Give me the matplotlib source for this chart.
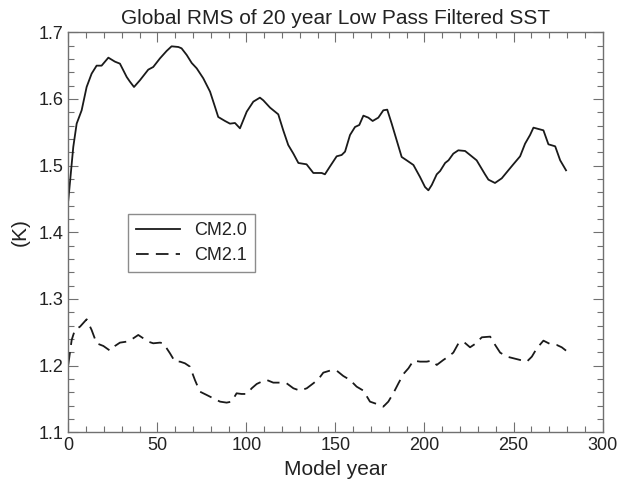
import matplotlib
matplotlib.use("Agg")
import matplotlib.pyplot as plt
from matplotlib.ticker import MultipleLocator

plt.rcParams['font.family'] = ['Liberation Sans', 'DejaVu Sans']

# CM2.0 - solid line
yr_cm20 = [0, 2.8, 4.7, 7.5, 10.3, 13.1, 15.9, 18.7, 22.5, 26.2, 29.0, 32.8, 34.6, 36.9,
           40.2, 44.9, 47.7, 51.5, 55.2, 58.0, 61.8, 63.6, 66.5, 69.3, 72.1, 75.8, 79.6,
           82.4, 84.2, 88.0, 90.8, 93.6, 96.4, 100.2, 103.9, 107.6, 109.5, 113.3, 117.9,
           120.7, 123.5, 126.4, 129.2, 133.8, 137.6, 142.3, 144.1, 147.0, 150.7, 153.5,
           155.4, 158.2, 161.0, 163.4, 165.7, 168.5, 170.9, 174.1, 176.9, 179.1, 181.6,
           184.4, 187.2, 190.0, 193.8, 197.5, 200.3, 202.2, 204.1, 206.9, 208.8, 211.6,
           213.5, 216.2, 219.0, 222.8, 225.6, 229.3, 234.0, 235.9, 239.6, 243.4, 247.1,
           249.9, 253.7, 256.5, 259.3, 261.2, 264.0, 266.8, 269.6, 273.4, 276.2, 279.5]
rms_cm20 = [1.448, 1.528, 1.563, 1.583, 1.618, 1.638, 1.650, 1.650, 1.662, 1.656, 1.653,
            1.633, 1.626, 1.618, 1.628, 1.644, 1.648, 1.661, 1.672, 1.679, 1.678, 1.676,
            1.666, 1.654, 1.646, 1.631, 1.611, 1.588, 1.573, 1.567, 1.563, 1.564, 1.556,
            1.581, 1.596, 1.602, 1.598, 1.587, 1.577, 1.553, 1.531, 1.518, 1.504, 1.502,
            1.489, 1.489, 1.487, 1.499, 1.514, 1.516, 1.521, 1.546, 1.558, 1.561, 1.575,
            1.572, 1.567, 1.572, 1.583, 1.584, 1.563, 1.538, 1.513, 1.508, 1.501, 1.483,
            1.468, 1.463, 1.471, 1.487, 1.492, 1.504, 1.508, 1.518, 1.523, 1.522, 1.516,
            1.508, 1.487, 1.479, 1.474, 1.481, 1.493, 1.502, 1.514, 1.533, 1.546, 1.557,
            1.555, 1.553, 1.532, 1.529, 1.508, 1.493]

# CM2.1 - dashed line
yr_cm21 = [0, 1.9, 3.7, 6.6, 10.3, 13.1, 15.9, 19.7, 23.4, 26.2, 29.0, 32.8, 36.5, 39.3,
           42.1, 44.9, 47.7, 51.5, 53.4, 57.1, 59.9, 62.7, 65.5, 68.3, 71.1, 73.9, 77.7,
           81.4, 85.2, 88.9, 91.7, 94.5, 97.3, 100.2, 103.0, 105.8, 108.6, 111.4, 115.1,
           118.9, 122.6, 126.4, 130.1, 133.9, 137.6, 140.4, 143.2, 146.9, 150.7, 154.4,
           158.2, 161.9, 165.7, 169.4, 173.2, 176.9, 179.7, 182.5, 185.4, 188.2, 191.0,
           193.8, 197.5, 201.3, 204.1, 206.9, 210.6, 213.4, 216.2, 219.1, 221.9, 225.6,
           228.4, 232.2, 236.9, 239.7, 242.5, 246.3, 250.0, 253.7, 257.5, 260.3, 263.1,
           266.8, 270.5, 274.3, 277.1, 279.5]
rms_cm21 = [1.2015, 1.2385, 1.2535, 1.2585, 1.2695, 1.2535, 1.2335, 1.2295, 1.2225, 1.2295,
            1.2345, 1.236, 1.241, 1.246, 1.241, 1.236, 1.2335, 1.2345, 1.2335, 1.2185,
            1.206, 1.206, 1.2035, 1.1985, 1.1785, 1.161, 1.156, 1.151, 1.146, 1.1445,
            1.146, 1.1585, 1.1575, 1.1575, 1.166, 1.1725, 1.176, 1.1785, 1.1745, 1.1745,
            1.1735, 1.166, 1.1625, 1.166, 1.1735, 1.1795, 1.1895, 1.1925, 1.1925, 1.1845,
            1.1785, 1.1685, 1.1625, 1.146, 1.1425, 1.1385, 1.146, 1.1585, 1.1735, 1.1875,
            1.196, 1.2075, 1.206, 1.206, 1.2075, 1.201, 1.2085, 1.2135, 1.2195, 1.2335,
            1.236, 1.2275, 1.2325, 1.2425, 1.2435, 1.231, 1.2195, 1.2135, 1.211, 1.2085,
            1.206, 1.2135, 1.226, 1.2375, 1.2325, 1.231, 1.2275, 1.2225]

fig = plt.figure(figsize=(6.18, 4.86), dpi=100)
ax = fig.add_axes([0.1105, 0.1105, 0.8645, 0.823])

ax.plot(yr_cm20, rms_cm20, color='#1a1a1a', lw=1.3, label='CM2.0')
ax.plot(yr_cm21, rms_cm21, color='#1a1a1a', lw=1.3, dashes=(7, 4), label='CM2.1')

ax.set_xlim(0, 300)
ax.set_ylim(1.1, 1.7)
ax.xaxis.set_major_locator(MultipleLocator(50))
ax.xaxis.set_minor_locator(MultipleLocator(10))
ax.yaxis.set_major_locator(MultipleLocator(0.1))
ax.yaxis.set_minor_locator(MultipleLocator(0.02))
ax.tick_params(which='both', direction='in', top=True, right=True, colors='#707070',
               labelcolor='#222222', labelsize=13)
ax.tick_params(which='major', length=7, width=0.8)
ax.tick_params(which='minor', length=4, width=0.8)
for s in ax.spines.values():
    s.set_color('#707070')
    s.set_linewidth(1.0)

ax.set_title('Global RMS of 20 year Low Pass Filtered SST', fontsize=15, color='#222222', pad=6)
ax.set_xlabel('Model year', fontsize=15, color='#222222', labelpad=4)
ax.set_ylabel('(K)', fontsize=15, color='#222222', labelpad=6)

leg = ax.legend(loc='upper left', bbox_to_anchor=(0.112, 0.546), borderaxespad=0,
                fontsize=13, frameon=True, fancybox=False, edgecolor='#707070',
                handlelength=2.4, borderpad=0.45, labelspacing=0.45)
leg.get_frame().set_linewidth(1.0)
for t in leg.get_texts():
    t.set_color('#222222')

fig.savefig('out.png', dpi=100)
